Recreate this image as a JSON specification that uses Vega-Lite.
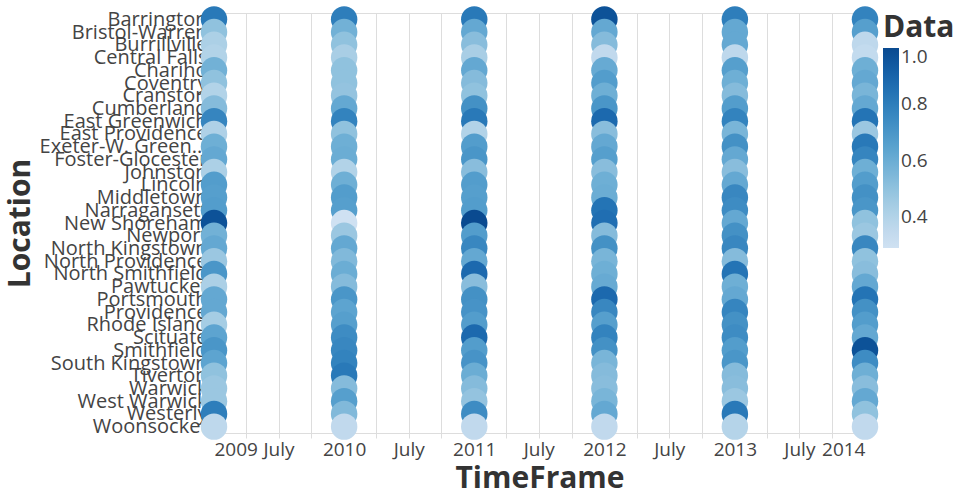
{
  "$schema": "https://vega.github.io/schema/vega-lite/v6.json",
  "width": 651,
  "height": 420,
  "autosize": {"type": "none"},
  "padding": {"left": 214, "top": 13, "right": 95, "bottom": 67},
  "datasets": {
    "rows": [
      {"Location":"Barrington","TimeFrame":"2009-01-01T00:00:00","Data":0.82},
      {"Location":"Bristol-Warren","TimeFrame":"2009-01-01T00:00:00","Data":0.5},
      {"Location":"Burrillville","TimeFrame":"2009-01-01T00:00:00","Data":0.42},
      {"Location":"Central Falls","TimeFrame":"2009-01-01T00:00:00","Data":0.4},
      {"Location":"Chariho","TimeFrame":"2009-01-01T00:00:00","Data":0.58},
      {"Location":"Coventry","TimeFrame":"2009-01-01T00:00:00","Data":0.5},
      {"Location":"Cranston","TimeFrame":"2009-01-01T00:00:00","Data":0.4},
      {"Location":"Cumberland","TimeFrame":"2009-01-01T00:00:00","Data":0.53},
      {"Location":"East Greenwich","TimeFrame":"2009-01-01T00:00:00","Data":0.77},
      {"Location":"East Providence","TimeFrame":"2009-01-01T00:00:00","Data":0.41},
      {"Location":"Exeter-W. Green...","TimeFrame":"2009-01-01T00:00:00","Data":0.59},
      {"Location":"Foster-Glocester","TimeFrame":"2009-01-01T00:00:00","Data":0.62},
      {"Location":"Johnston","TimeFrame":"2009-01-01T00:00:00","Data":0.42},
      {"Location":"Lincoln","TimeFrame":"2009-01-01T00:00:00","Data":0.67},
      {"Location":"Middletown","TimeFrame":"2009-01-01T00:00:00","Data":0.66},
      {"Location":"Narragansett","TimeFrame":"2009-01-01T00:00:00","Data":0.67},
      {"Location":"New Shoreham","TimeFrame":"2009-01-01T00:00:00","Data":0.97},
      {"Location":"Newport","TimeFrame":"2009-01-01T00:00:00","Data":0.58},
      {"Location":"North Kingstown","TimeFrame":"2009-01-01T00:00:00","Data":0.62},
      {"Location":"North Providence","TimeFrame":"2009-01-01T00:00:00","Data":0.47},
      {"Location":"North Smithfield","TimeFrame":"2009-01-01T00:00:00","Data":0.7},
      {"Location":"Pawtucket","TimeFrame":"2009-01-01T00:00:00","Data":0.42},
      {"Location":"Portsmouth","TimeFrame":"2009-01-01T00:00:00","Data":0.62},
      {"Location":"Providence","TimeFrame":"2009-01-01T00:00:00","Data":0.62},
      {"Location":"Rhode Island","TimeFrame":"2009-01-01T00:00:00","Data":0.44},
      {"Location":"Scituate","TimeFrame":"2009-01-01T00:00:00","Data":0.64},
      {"Location":"Smithfield","TimeFrame":"2009-01-01T00:00:00","Data":0.7},
      {"Location":"South Kingstown","TimeFrame":"2009-01-01T00:00:00","Data":0.64},
      {"Location":"Tiverton","TimeFrame":"2009-01-01T00:00:00","Data":0.5},
      {"Location":"Warwick","TimeFrame":"2009-01-01T00:00:00","Data":0.47},
      {"Location":"West Warwick","TimeFrame":"2009-01-01T00:00:00","Data":0.47},
      {"Location":"Westerly","TimeFrame":"2009-01-01T00:00:00","Data":0.8},
      {"Location":"Woonsocket","TimeFrame":"2009-01-01T00:00:00","Data":0.36},

      {"Location":"Barrington","TimeFrame":"2010-01-01T00:00:00","Data":0.8},
      {"Location":"Bristol-Warren","TimeFrame":"2010-01-01T00:00:00","Data":0.58},
      {"Location":"Burrillville","TimeFrame":"2010-01-01T00:00:00","Data":0.5},
      {"Location":"Central Falls","TimeFrame":"2010-01-01T00:00:00","Data":0.43},
      {"Location":"Chariho","TimeFrame":"2010-01-01T00:00:00","Data":0.5},
      {"Location":"Coventry","TimeFrame":"2010-01-01T00:00:00","Data":0.5},
      {"Location":"Cranston","TimeFrame":"2010-01-01T00:00:00","Data":0.49},
      {"Location":"Cumberland","TimeFrame":"2010-01-01T00:00:00","Data":0.62},
      {"Location":"East Greenwich","TimeFrame":"2010-01-01T00:00:00","Data":0.78},
      {"Location":"East Providence","TimeFrame":"2010-01-01T00:00:00","Data":0.5},
      {"Location":"Exeter-W. Green...","TimeFrame":"2010-01-01T00:00:00","Data":0.59},
      {"Location":"Foster-Glocester","TimeFrame":"2010-01-01T00:00:00","Data":0.6},
      {"Location":"Johnston","TimeFrame":"2010-01-01T00:00:00","Data":0.4},
      {"Location":"Lincoln","TimeFrame":"2010-01-01T00:00:00","Data":0.59},
      {"Location":"Middletown","TimeFrame":"2010-01-01T00:00:00","Data":0.67},
      {"Location":"Narragansett","TimeFrame":"2010-01-01T00:00:00","Data":0.66},
      {"Location":"New Shoreham","TimeFrame":"2010-01-01T00:00:00","Data":0.29},
      {"Location":"Newport","TimeFrame":"2010-01-01T00:00:00","Data":0.47},
      {"Location":"North Kingstown","TimeFrame":"2010-01-01T00:00:00","Data":0.62},
      {"Location":"North Providence","TimeFrame":"2010-01-01T00:00:00","Data":0.54},
      {"Location":"North Smithfield","TimeFrame":"2010-01-01T00:00:00","Data":0.6},
      {"Location":"Pawtucket","TimeFrame":"2010-01-01T00:00:00","Data":0.53},
      {"Location":"Portsmouth","TimeFrame":"2010-01-01T00:00:00","Data":0.7},
      {"Location":"Providence","TimeFrame":"2010-01-01T00:00:00","Data":0.64},
      {"Location":"Rhode Island","TimeFrame":"2010-01-01T00:00:00","Data":0.66},
      {"Location":"Scituate","TimeFrame":"2010-01-01T00:00:00","Data":0.74},
      {"Location":"Smithfield","TimeFrame":"2010-01-01T00:00:00","Data":0.76},
      {"Location":"South Kingstown","TimeFrame":"2010-01-01T00:00:00","Data":0.78},
      {"Location":"Tiverton","TimeFrame":"2010-01-01T00:00:00","Data":0.82},
      {"Location":"Warwick","TimeFrame":"2010-01-01T00:00:00","Data":0.53},
      {"Location":"West Warwick","TimeFrame":"2010-01-01T00:00:00","Data":0.66},
      {"Location":"Westerly","TimeFrame":"2010-01-01T00:00:00","Data":0.54},
      {"Location":"Woonsocket","TimeFrame":"2010-01-01T00:00:00","Data":0.35},

      {"Location":"Barrington","TimeFrame":"2011-01-01T00:00:00","Data":0.82},
      {"Location":"Bristol-Warren","TimeFrame":"2011-01-01T00:00:00","Data":0.62},
      {"Location":"Burrillville","TimeFrame":"2011-01-01T00:00:00","Data":0.52},
      {"Location":"Central Falls","TimeFrame":"2011-01-01T00:00:00","Data":0.43},
      {"Location":"Chariho","TimeFrame":"2011-01-01T00:00:00","Data":0.62},
      {"Location":"Coventry","TimeFrame":"2011-01-01T00:00:00","Data":0.53},
      {"Location":"Cranston","TimeFrame":"2011-01-01T00:00:00","Data":0.5},
      {"Location":"Cumberland","TimeFrame":"2011-01-01T00:00:00","Data":0.72},
      {"Location":"East Greenwich","TimeFrame":"2011-01-01T00:00:00","Data":0.82},
      {"Location":"East Providence","TimeFrame":"2011-01-01T00:00:00","Data":0.4},
      {"Location":"Exeter-W. Green...","TimeFrame":"2011-01-01T00:00:00","Data":0.67},
      {"Location":"Foster-Glocester","TimeFrame":"2011-01-01T00:00:00","Data":0.7},
      {"Location":"Johnston","TimeFrame":"2011-01-01T00:00:00","Data":0.52},
      {"Location":"Lincoln","TimeFrame":"2011-01-01T00:00:00","Data":0.67},
      {"Location":"Middletown","TimeFrame":"2011-01-01T00:00:00","Data":0.66},
      {"Location":"Narragansett","TimeFrame":"2011-01-01T00:00:00","Data":0.67},
      {"Location":"New Shoreham","TimeFrame":"2011-01-01T00:00:00","Data":1.0},
      {"Location":"Newport","TimeFrame":"2011-01-01T00:00:00","Data":0.67},
      {"Location":"North Kingstown","TimeFrame":"2011-01-01T00:00:00","Data":0.76},
      {"Location":"North Providence","TimeFrame":"2011-01-01T00:00:00","Data":0.62},
      {"Location":"North Smithfield","TimeFrame":"2011-01-01T00:00:00","Data":0.88},
      {"Location":"Pawtucket","TimeFrame":"2011-01-01T00:00:00","Data":0.52},
      {"Location":"Portsmouth","TimeFrame":"2011-01-01T00:00:00","Data":0.72},
      {"Location":"Providence","TimeFrame":"2011-01-01T00:00:00","Data":0.71},
      {"Location":"Rhode Island","TimeFrame":"2011-01-01T00:00:00","Data":0.67},
      {"Location":"Scituate","TimeFrame":"2011-01-01T00:00:00","Data":0.88},
      {"Location":"Smithfield","TimeFrame":"2011-01-01T00:00:00","Data":0.67},
      {"Location":"South Kingstown","TimeFrame":"2011-01-01T00:00:00","Data":0.71},
      {"Location":"Tiverton","TimeFrame":"2011-01-01T00:00:00","Data":0.6},
      {"Location":"Warwick","TimeFrame":"2011-01-01T00:00:00","Data":0.53},
      {"Location":"West Warwick","TimeFrame":"2011-01-01T00:00:00","Data":0.49},
      {"Location":"Westerly","TimeFrame":"2011-01-01T00:00:00","Data":0.74},
      {"Location":"Woonsocket","TimeFrame":"2011-01-01T00:00:00","Data":0.35},

      {"Location":"Barrington","TimeFrame":"2012-01-01T00:00:00","Data":0.97},
      {"Location":"Bristol-Warren","TimeFrame":"2012-01-01T00:00:00","Data":0.62},
      {"Location":"Burrillville","TimeFrame":"2012-01-01T00:00:00","Data":0.53},
      {"Location":"Central Falls","TimeFrame":"2012-01-01T00:00:00","Data":0.35},
      {"Location":"Chariho","TimeFrame":"2012-01-01T00:00:00","Data":0.61},
      {"Location":"Coventry","TimeFrame":"2012-01-01T00:00:00","Data":0.67},
      {"Location":"Cranston","TimeFrame":"2012-01-01T00:00:00","Data":0.59},
      {"Location":"Cumberland","TimeFrame":"2012-01-01T00:00:00","Data":0.7},
      {"Location":"East Greenwich","TimeFrame":"2012-01-01T00:00:00","Data":0.88},
      {"Location":"East Providence","TimeFrame":"2012-01-01T00:00:00","Data":0.52},
      {"Location":"Exeter-W. Green...","TimeFrame":"2012-01-01T00:00:00","Data":0.62},
      {"Location":"Foster-Glocester","TimeFrame":"2012-01-01T00:00:00","Data":0.66},
      {"Location":"Johnston","TimeFrame":"2012-01-01T00:00:00","Data":0.52},
      {"Location":"Lincoln","TimeFrame":"2012-01-01T00:00:00","Data":0.59},
      {"Location":"Middletown","TimeFrame":"2012-01-01T00:00:00","Data":0.6},
      {"Location":"Narragansett","TimeFrame":"2012-01-01T00:00:00","Data":0.84},
      {"Location":"New Shoreham","TimeFrame":"2012-01-01T00:00:00","Data":0.86},
      {"Location":"Newport","TimeFrame":"2012-01-01T00:00:00","Data":0.53},
      {"Location":"North Kingstown","TimeFrame":"2012-01-01T00:00:00","Data":0.72},
      {"Location":"North Providence","TimeFrame":"2012-01-01T00:00:00","Data":0.56},
      {"Location":"North Smithfield","TimeFrame":"2012-01-01T00:00:00","Data":0.59},
      {"Location":"Pawtucket","TimeFrame":"2012-01-01T00:00:00","Data":0.61},
      {"Location":"Portsmouth","TimeFrame":"2012-01-01T00:00:00","Data":0.88},
      {"Location":"Providence","TimeFrame":"2012-01-01T00:00:00","Data":0.76},
      {"Location":"Rhode Island","TimeFrame":"2012-01-01T00:00:00","Data":0.66},
      {"Location":"Scituate","TimeFrame":"2012-01-01T00:00:00","Data":0.78},
      {"Location":"Smithfield","TimeFrame":"2012-01-01T00:00:00","Data":0.72},
      {"Location":"South Kingstown","TimeFrame":"2012-01-01T00:00:00","Data":0.56},
      {"Location":"Tiverton","TimeFrame":"2012-01-01T00:00:00","Data":0.53},
      {"Location":"Warwick","TimeFrame":"2012-01-01T00:00:00","Data":0.52},
      {"Location":"West Warwick","TimeFrame":"2012-01-01T00:00:00","Data":0.56},
      {"Location":"Westerly","TimeFrame":"2012-01-01T00:00:00","Data":0.62},
      {"Location":"Woonsocket","TimeFrame":"2012-01-01T00:00:00","Data":0.35},

      {"Location":"Barrington","TimeFrame":"2013-01-01T00:00:00","Data":0.8},
      {"Location":"Bristol-Warren","TimeFrame":"2013-01-01T00:00:00","Data":0.62},
      {"Location":"Burrillville","TimeFrame":"2013-01-01T00:00:00","Data":0.62},
      {"Location":"Central Falls","TimeFrame":"2013-01-01T00:00:00","Data":0.36},
      {"Location":"Chariho","TimeFrame":"2013-01-01T00:00:00","Data":0.66},
      {"Location":"Coventry","TimeFrame":"2013-01-01T00:00:00","Data":0.59},
      {"Location":"Cranston","TimeFrame":"2013-01-01T00:00:00","Data":0.53},
      {"Location":"Cumberland","TimeFrame":"2013-01-01T00:00:00","Data":0.67},
      {"Location":"East Greenwich","TimeFrame":"2013-01-01T00:00:00","Data":0.78},
      {"Location":"East Providence","TimeFrame":"2013-01-01T00:00:00","Data":0.56},
      {"Location":"Exeter-W. Green...","TimeFrame":"2013-01-01T00:00:00","Data":0.72},
      {"Location":"Foster-Glocester","TimeFrame":"2013-01-01T00:00:00","Data":0.62},
      {"Location":"Johnston","TimeFrame":"2013-01-01T00:00:00","Data":0.52},
      {"Location":"Lincoln","TimeFrame":"2013-01-01T00:00:00","Data":0.62},
      {"Location":"Middletown","TimeFrame":"2013-01-01T00:00:00","Data":0.76},
      {"Location":"Narragansett","TimeFrame":"2013-01-01T00:00:00","Data":0.74},
      {"Location":"New Shoreham","TimeFrame":"2013-01-01T00:00:00","Data":0.62},
      {"Location":"Newport","TimeFrame":"2013-01-01T00:00:00","Data":0.72},
      {"Location":"North Kingstown","TimeFrame":"2013-01-01T00:00:00","Data":0.76},
      {"Location":"North Providence","TimeFrame":"2013-01-01T00:00:00","Data":0.53},
      {"Location":"North Smithfield","TimeFrame":"2013-01-01T00:00:00","Data":0.84},
      {"Location":"Pawtucket","TimeFrame":"2013-01-01T00:00:00","Data":0.59},
      {"Location":"Portsmouth","TimeFrame":"2013-01-01T00:00:00","Data":0.62},
      {"Location":"Providence","TimeFrame":"2013-01-01T00:00:00","Data":0.77},
      {"Location":"Rhode Island","TimeFrame":"2013-01-01T00:00:00","Data":0.72},
      {"Location":"Scituate","TimeFrame":"2013-01-01T00:00:00","Data":0.74},
      {"Location":"Smithfield","TimeFrame":"2013-01-01T00:00:00","Data":0.67},
      {"Location":"South Kingstown","TimeFrame":"2013-01-01T00:00:00","Data":0.7},
      {"Location":"Tiverton","TimeFrame":"2013-01-01T00:00:00","Data":0.53},
      {"Location":"Warwick","TimeFrame":"2013-01-01T00:00:00","Data":0.52},
      {"Location":"West Warwick","TimeFrame":"2013-01-01T00:00:00","Data":0.47},
      {"Location":"Westerly","TimeFrame":"2013-01-01T00:00:00","Data":0.82},
      {"Location":"Woonsocket","TimeFrame":"2013-01-01T00:00:00","Data":0.39},

      {"Location":"Barrington","TimeFrame":"2014-01-01T00:00:00","Data":0.78},
      {"Location":"Bristol-Warren","TimeFrame":"2014-01-01T00:00:00","Data":0.66},
      {"Location":"Burrillville","TimeFrame":"2014-01-01T00:00:00","Data":0.36},
      {"Location":"Central Falls","TimeFrame":"2014-01-01T00:00:00","Data":0.34},
      {"Location":"Chariho","TimeFrame":"2014-01-01T00:00:00","Data":0.59},
      {"Location":"Coventry","TimeFrame":"2014-01-01T00:00:00","Data":0.62},
      {"Location":"Cranston","TimeFrame":"2014-01-01T00:00:00","Data":0.56},
      {"Location":"Cumberland","TimeFrame":"2014-01-01T00:00:00","Data":0.62},
      {"Location":"East Greenwich","TimeFrame":"2014-01-01T00:00:00","Data":0.84},
      {"Location":"East Providence","TimeFrame":"2014-01-01T00:00:00","Data":0.47},
      {"Location":"Exeter-W. Green...","TimeFrame":"2014-01-01T00:00:00","Data":0.82},
      {"Location":"Foster-Glocester","TimeFrame":"2014-01-01T00:00:00","Data":0.77},
      {"Location":"Johnston","TimeFrame":"2014-01-01T00:00:00","Data":0.59},
      {"Location":"Lincoln","TimeFrame":"2014-01-01T00:00:00","Data":0.67},
      {"Location":"Middletown","TimeFrame":"2014-01-01T00:00:00","Data":0.72},
      {"Location":"Narragansett","TimeFrame":"2014-01-01T00:00:00","Data":0.7},
      {"Location":"New Shoreham","TimeFrame":"2014-01-01T00:00:00","Data":0.5},
      {"Location":"Newport","TimeFrame":"2014-01-01T00:00:00","Data":0.47},
      {"Location":"North Kingstown","TimeFrame":"2014-01-01T00:00:00","Data":0.76},
      {"Location":"North Providence","TimeFrame":"2014-01-01T00:00:00","Data":0.5},
      {"Location":"North Smithfield","TimeFrame":"2014-01-01T00:00:00","Data":0.52},
      {"Location":"Pawtucket","TimeFrame":"2014-01-01T00:00:00","Data":0.62},
      {"Location":"Portsmouth","TimeFrame":"2014-01-01T00:00:00","Data":0.84},
      {"Location":"Providence","TimeFrame":"2014-01-01T00:00:00","Data":0.72},
      {"Location":"Rhode Island","TimeFrame":"2014-01-01T00:00:00","Data":0.67},
      {"Location":"Scituate","TimeFrame":"2014-01-01T00:00:00","Data":0.62},
      {"Location":"Smithfield","TimeFrame":"2014-01-01T00:00:00","Data":0.97},
      {"Location":"South Kingstown","TimeFrame":"2014-01-01T00:00:00","Data":0.74},
      {"Location":"Tiverton","TimeFrame":"2014-01-01T00:00:00","Data":0.59},
      {"Location":"Warwick","TimeFrame":"2014-01-01T00:00:00","Data":0.52},
      {"Location":"West Warwick","TimeFrame":"2014-01-01T00:00:00","Data":0.62},
      {"Location":"Westerly","TimeFrame":"2014-01-01T00:00:00","Data":0.5},
      {"Location":"Woonsocket","TimeFrame":"2014-01-01T00:00:00","Data":0.35}
    ]
  },
  "data": {"name": "rows"},
  "mark": {"type": "circle", "size": 700, "opacity": 1},
  "encoding": {
    "x": {"field": "TimeFrame", "type": "temporal", "title": "TimeFrame"},
    "y": {"field": "Location", "type": "nominal", "title": "Location"},
    "color": {"field": "Data", "type": "quantitative", "title": "Data"}
  },
  "config": {
    "font": "Open Sans",
    "view": {"stroke": "#ddd"},
    "axis": {
      "labelFont": "Open Sans",
      "titleFont": "Open Sans",
      "labelFontSize": 19,
      "titleFontSize": 30,
      "titleFontWeight": "bold",
      "labelColor": "#444",
      "titleColor": "#333",
      "domainColor": "#ddd",
      "tickColor": "#ddd",
      "gridColor": "#ddd"
    },
    "axisY": {"labelFontSize": 20},
    "legend": {
      "titleFont": "Open Sans",
      "labelFont": "Open Sans",
      "titleFontSize": 30,
      "titleFontWeight": "bold",
      "labelFontSize": 19,
      "titleColor": "#333",
      "labelColor": "#444"
    }
  }
}
